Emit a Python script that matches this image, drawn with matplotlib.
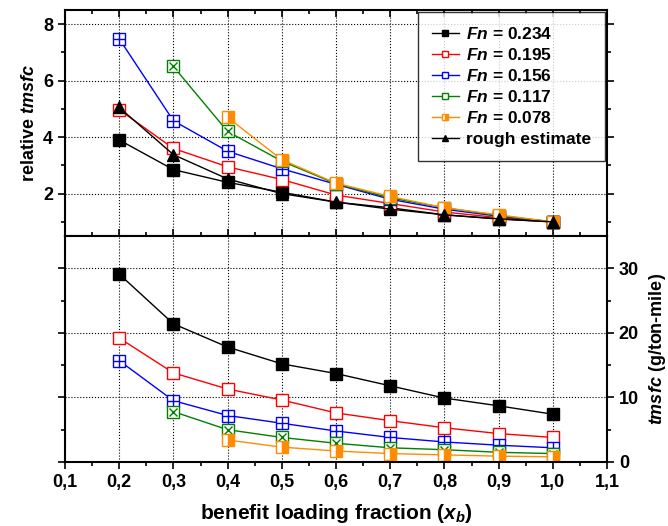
import numpy as np
import matplotlib.pyplot as plt

plt.rcParams['font.family'] = 'Liberation Sans'
plt.rcParams['font.weight'] = 'bold'
plt.rcParams['mathtext.fontset'] = 'custom'
plt.rcParams['mathtext.it'] = 'Liberation Sans:italic:bold'
plt.rcParams['mathtext.rm'] = 'Liberation Sans:bold'

x = [0.2, 0.3, 0.4, 0.5, 0.6, 0.7, 0.8, 0.9, 1.0]
fn_labels = ["0.234", "0.195", "0.156", "0.117", "0.078"]

# relative tmsfc (top)
rel_234 = [3.9, 2.85, 2.4, 2.05, 1.7, 1.5, 1.25, 1.1, 1.0]
rel_195 = [4.97, 3.6, 2.95, 2.5, 1.95, 1.65, 1.35, 1.15, 1.0]
rel_156 = [7.48, 4.58, 3.5, 2.88, 2.33, 1.8, 1.45, 1.2, 1.0]
rel_117 = [None, 6.5, 4.2, 3.15, 2.35, 1.85, 1.5, 1.22, 1.0]
rel_078 = [None, None, 4.7, 3.2, 2.37, 1.9, 1.5, 1.25, 1.0]
rough = [5.05, 3.38, 2.52, 2.0, 1.7, 1.45, 1.25, 1.11, 1.0]

# tmsfc in g/ton-mile (bottom)
abs_234 = [29.1, 21.4, 17.8, 15.2, 13.7, 11.8, 9.9, 8.7, 7.4]
abs_195 = [19.2, 13.8, 11.3, 9.6, 7.6, 6.4, 5.3, 4.4, 3.8]
abs_156 = [15.7, 9.5, 7.2, 6.0, 4.8, 3.8, 3.1, 2.6, 2.2]
abs_117 = [None, 7.8, 5.0, 3.8, 2.9, 2.2, 1.9, 1.5, 1.3]
abs_078 = [None, None, 3.4, 2.3, 1.7, 1.3, 1.1, 0.9, 0.8]

rel = [rel_234, rel_195, rel_156, rel_117, rel_078]
absv = [abs_234, abs_195, abs_156, abs_117, abs_078]
colors = ['black', 'red', 'blue', 'green', 'darkorange']

fig = plt.figure(figsize=(6.68, 5.26), dpi=100)
ax1 = fig.add_axes([0.0973, 0.5513, 0.8114, 0.4297])
ax2 = fig.add_axes([0.0973, 0.1217, 0.8114, 0.4296], sharex=ax1)


def draw(ax, vals, i, c, label=None):
    xs = [a for a, v in zip(x, vals) if v is not None]
    ys = [v for v in vals if v is not None]
    ms = 8
    if i == 0:
        ax.plot(xs, ys, '-s', color=c, ms=ms, mfc=c, mec=c, lw=1, label=label)
    elif i == 1:
        ax.plot(xs, ys, '-s', color=c, ms=ms, mfc='white', mec=c, mew=1, lw=1, label=label)
    elif i == 2:
        ax.plot(xs, ys, '-s', color=c, ms=ms, mfc='white', mec=c, mew=1, lw=1, label=label)
        ax.plot(xs, ys, '+', color=c, ms=ms, mew=1, ls='none')
    elif i == 3:
        ax.plot(xs, ys, '-s', color=c, ms=ms, mfc='white', mec=c, mew=1, lw=1, label=label)
        ax.plot(xs, ys, 'x', color=c, ms=ms * 0.75, mew=1, ls='none')
    else:
        ax.plot(xs, ys, '-s', color=c, ms=ms, mfc=c, mfcalt='white', fillstyle='right',
                mec=c, mew=1, lw=1, label=label)


for i, c in enumerate(colors):
    draw(ax1, rel[i], i, c, label=r"$Fn$ = " + fn_labels[i])
    draw(ax2, absv[i], i, c)
ax1.plot(x, rough, '-^', color='black', ms=8, lw=1, label='rough estimate')

ax1.set_xlim(0.1, 1.1)
ax1.set_ylim(0.5, 8.5)
ax2.set_ylim(0, 35)

ticks = np.round(np.arange(0.1, 1.11, 0.1), 1)
ax2.set_xticks(ticks)
ax2.set_xticklabels([f"{t:.1f}".replace('.', ',') for t in ticks])
ax2.set_xticks(np.arange(0.15, 1.1, 0.1), minor=True)
plt.setp(ax1.get_xticklabels(), visible=False)

ax1.set_yticks([2, 4, 6, 8])
ax1.set_yticks([1, 3, 5, 7], minor=True)
ax2.set_yticks([0, 10, 20, 30])
ax2.set_yticks([5, 15, 25], minor=True)

for ax in (ax1, ax2):
    ax.grid(True, which='major', ls=':', color='black', lw=0.8)
    ax.tick_params(which='both', direction='out', labelsize=13, width=1.2,
                   top=True, right=True)
    ax.tick_params(which='major', length=5)
    ax.tick_params(which='minor', length=3)
    for s in ax.spines.values():
        s.set_linewidth(1.5)

ax1.tick_params(axis='x', which='both', direction='in')
ax2.tick_params(axis='y', labelleft=False, labelright=True)
ax2.tick_params(axis='x', top=False, which='both')

ax1.set_ylabel(r"relative $tmsfc$", fontsize=13, fontweight='bold')
ax2.yaxis.set_label_position('right')
ax2.set_ylabel(r"$tmsfc$ (g/ton-mile)", fontsize=13, fontweight='bold', labelpad=6)
ax2.set_xlabel(r"benefit loading fraction ($x_b$)", fontsize=15, fontweight='bold', labelpad=8)

leg = ax1.legend(loc='upper right', fontsize=12.5, frameon=True, fancybox=False,
                 edgecolor='black', handlelength=1.6, markerscale=0.6,
                 borderpad=0.8, labelspacing=0.3, handletextpad=0.4,
                 borderaxespad=0.1)
leg.get_frame().set_linewidth(1)

fig.savefig('out.png', dpi=100)
